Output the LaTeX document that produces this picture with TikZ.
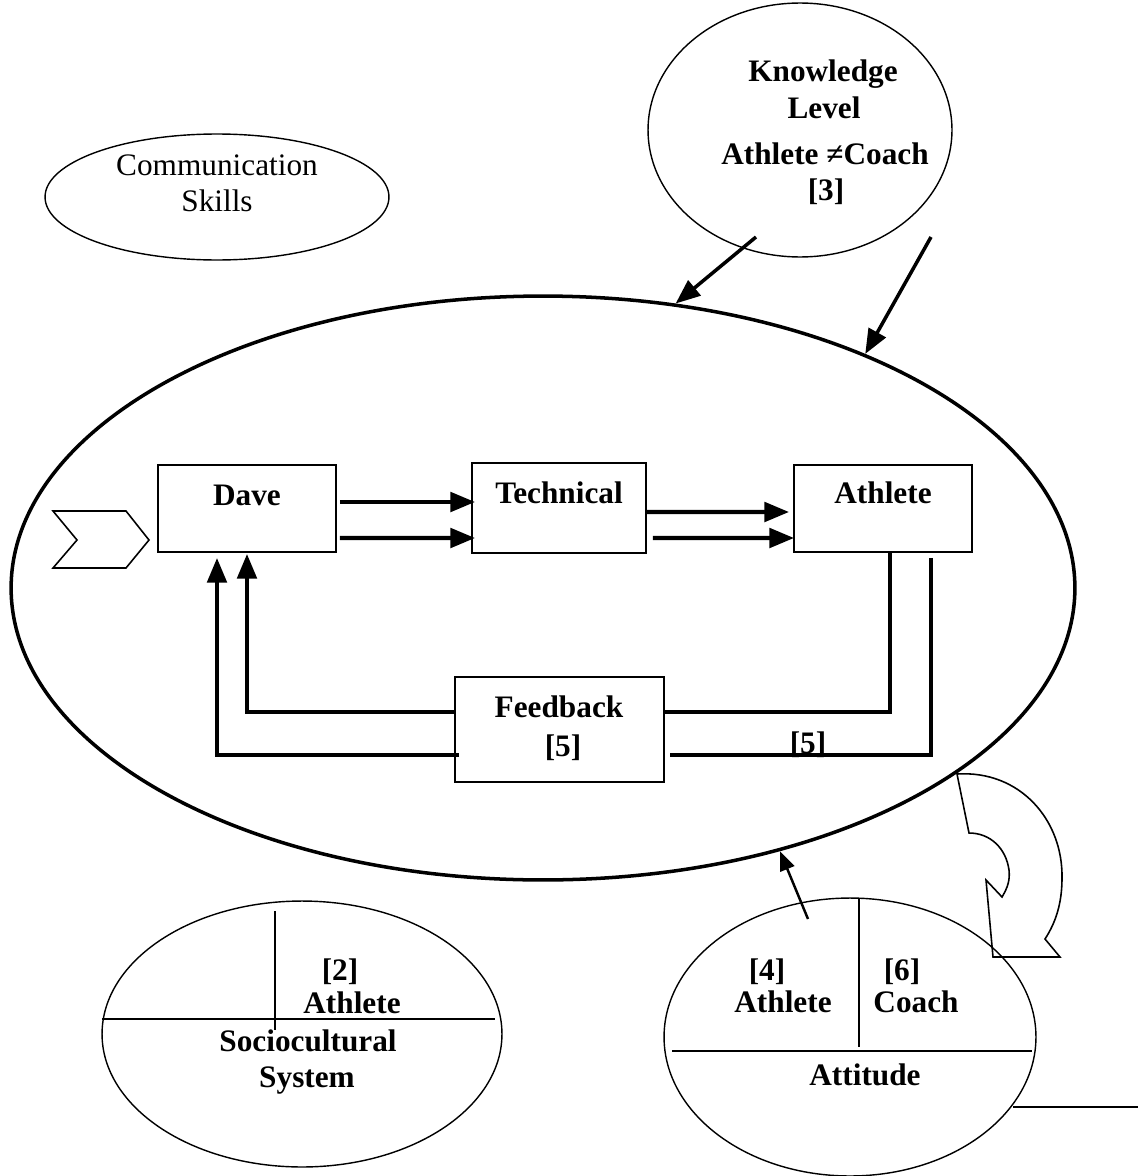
\documentclass[tikz,border=0pt]{standalone}
\usepackage{fontspec}
\setmainfont{Liberation Serif}
\usetikzlibrary{shapes.geometric,arrows.meta,calc}
\tikzset{
  txt/.style={anchor=base, inner sep=0pt, font=\fontsize{17.8}{20.5}\selectfont\bfseries},
  txtn/.style={anchor=base, inner sep=0pt, font=\fontsize{17.8}{20.5}\selectfont},
  thinell/.style={ellipse, draw, line width=0.8pt, inner sep=0pt},
  bigell/.style={ellipse, draw, line width=2pt, inner sep=0pt},
  boxnode/.style={rectangle, draw, line width=1.1pt, inner sep=0pt},
  thinline/.style={line width=0.8pt},
  fbline/.style={line width=2.3pt},
  arr/.style={line width=2.3pt, -{Triangle[length=14pt,width=11pt]}},
  karr/.style={line width=2pt, -{Triangle[length=14pt,width=11pt]}},
  sarr/.style={line width=1.4pt, -{Triangle[length=11pt,width=8.5pt]}},
  shapeline/.style={line width=0.9pt, line join=miter}
}
\begin{document}
\begin{tikzpicture}[x=0.02cm,y=-0.02cm]
\useasboundingbox (0,0) rectangle (1138,1176);

% ellipses
\node[bigell, minimum width=21.28cm, minimum height=11.68cm] (big) at (543,588) {};
\node[thinell, minimum width=6.88cm, minimum height=2.52cm] (comm) at (217,197) {};
\node[thinell, minimum width=6.08cm, minimum height=5.08cm] (know) at (800,130) {};
\node[thinell, minimum width=8cm, minimum height=5.32cm] (socio) at (302,1034) {};
\node[thinell, minimum width=7.44cm, minimum height=5.56cm] (att) at (850,1037) {};

% texts in ellipses
\node[txtn] (t1) at (217,175) {Communication};
\node[txtn] (t2) at (217,211) {Skills};
\node[txt] (k1) at (823,82) {Knowledge};
\node[txt] (k2) at (824,118) {Level};
\node[txt] (k3) at (825,164) {Athlete ≠Coach};
\node[txt] (k4) at (826,200) {[3]};

\node[txt] (s1) at (340,980) {[2]};
\node[txt] (s2) at (352,1013) {Athlete};
\node[txt] (s3) at (308,1051) {Sociocultural};
\node[txt] (s4) at (307,1087) {System};

\node[txt] (a1) at (767,980) {[4]};
\node[txt] (a2) at (783,1012) {Athlete};
\node[txt] (a3) at (902,980) {[6]};
\node[txt] (a4) at (916,1012) {Coach};
\node[txt] (a5) at (865,1085) {Attitude};

% dividing lines
\draw[thinline] ($(socio.center)+(-200,-15)$) -- ($(socio.center)+(193,-15)$);
\draw[thinline] ($(socio.center)+(-27,-123)$) -- ($(socio.center)+(-27,-4)$);
\draw[thinline] ($(att.center)+(9,-138)$) -- ($(att.center)+(9,10)$);
\draw[thinline] ($(att.center)+(-178,14)$) -- ($(att.center)+(182,14)$);
\coordinate (rightend) at (1138,1107);
\draw[thinline] ($(att.center)+(163,70)$) -- (rightend);

% boxes
\node[boxnode, minimum width=3.56cm, minimum height=1.74cm] (dave) at (247,508.5) {};
\node[boxnode, minimum width=3.48cm, minimum height=1.8cm] (tech) at (559,508) {};
\node[boxnode, minimum width=3.56cm, minimum height=1.74cm] (ath) at (883,508.5) {};
\node[boxnode, minimum width=4.18cm, minimum height=2.1cm] (fb) at (559.5,729.5) {};

\node[txt] (dt) at (247,505) {Dave};
\node[txt] (tt) at (559,503) {Technical};
\node[txt] (at) at (883,503) {Athlete};
\node[txt] (ft) at (559,717) {Feedback};
\node[txt] (ft2) at (563,756) {[5]};
\node[txt] (l5) at (808,753) {[5]};

% forward arrows
\draw[arr] ($(dave.east)+(3,-6.5)$) -- ($(tech.west)+(4,-6)$);
\draw[arr] ($(dave.east)+(3,29.5)$) -- ($(tech.west)+(4,30)$);
\draw[arr] ($(tech.east)+(0,4)$) -- ($(ath.west)+(-4,3.5)$);
\draw[arr] ($(tech.east)+(6,30)$) -- ($(ath.west)+(1,29.5)$);

% feedback lines
\draw[fbline] ($(ath.south)+(7,0)$) |- ($(fb.east)+(0,-17.5)$);
\draw[fbline] ($(ath.south)+(48,5)$) |- ($(fb.east)+(5,25.5)$);
\draw[arr] ($(fb.west)+(0,-17.5)$) -| ($(dave.south)+(0,1)$);
\draw[arr] ($(fb.west)+(5,25.5)$) -| ($(dave.south)+(-30,5)$);

% knowledge arrows
\draw[karr] ($(know.center)+(-44,107)$) -- (big.65.5);
\draw[karr] ($(know.center)+(131,107)$) -- (big.36);
% attitude arrow
\draw[sarr] ($(att.center)+(-42,-118)$) -- (big.-48.3);

% chevron
\draw[shapeline] (53,511) -- (126,511) -- (149,540) -- (126,568) -- (53,568) -- (77,540) -- cycle;

% curved arrow
\draw[shapeline] (957,774) .. controls (1020,770) and (1063,820) .. (1062,878)
  .. controls (1062,903) and (1056,922) .. (1045,939)
  -- (1060,957) -- (993,957) -- (986,880) -- (1002,897)
  .. controls (1008,887) and (1010,880) .. (1009,870)
  .. controls (1006,848) and (990,833) .. (969,833) -- cycle;
\end{tikzpicture}
\end{document}
